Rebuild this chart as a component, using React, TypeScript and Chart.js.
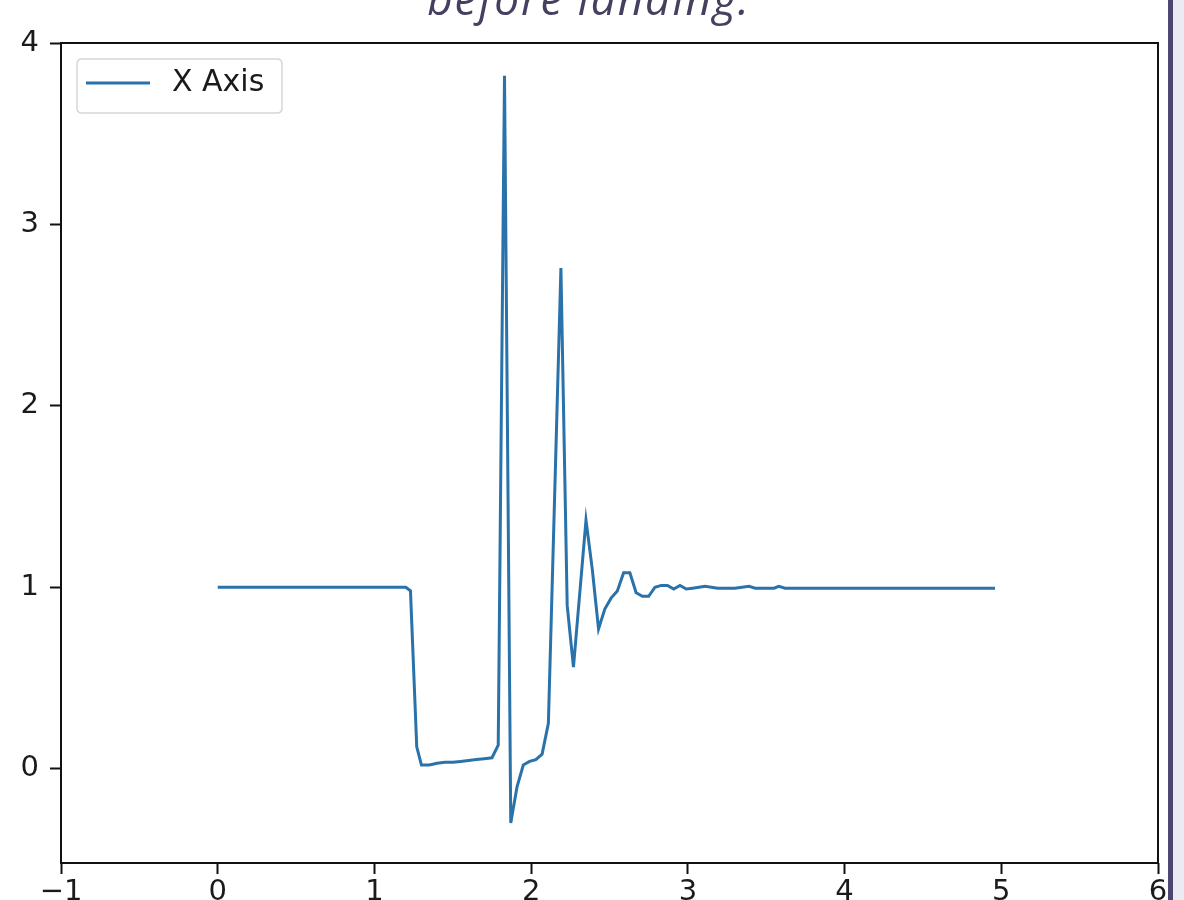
import React, { useEffect, useRef } from 'react';
import { Chart, registerables } from 'chart.js';

Chart.register(...registerables);

const titleText = 'before landing.';
const seriesLabel = 'X Axis';

const timeValues = [
  0, 1.2, 1.23, 1.27, 1.3, 1.35, 1.4, 1.45, 1.5, 1.55, 1.6, 1.65, 1.7, 1.75, 1.79,
  1.83, 1.87, 1.91, 1.95, 1.99, 2.03, 2.07, 2.11, 2.19, 2.23, 2.27, 2.35, 2.39, 2.43,
  2.47, 2.51, 2.55, 2.59, 2.63, 2.67, 2.71, 2.75, 2.79, 2.83, 2.87, 2.91, 2.95, 2.99,
  3.03, 3.07, 3.11, 3.15, 3.19, 3.3, 3.39, 3.43, 3.55, 3.58, 3.62, 4.96,
];
const axisValues = [
  1.0, 1.0, 0.98, 0.12, 0.02, 0.02, 0.03, 0.035, 0.035, 0.04, 0.045, 0.05, 0.055, 0.06, 0.13,
  3.82, -0.3, -0.1, 0.02, 0.04, 0.05, 0.08, 0.25, 2.76, 0.9, 0.56, 1.37, 1.1, 0.77,
  0.88, 0.94, 0.98, 1.08, 1.08, 0.97, 0.95, 0.95, 1.0, 1.01, 1.01, 0.99, 1.01, 0.99,
  0.995, 1.0, 1.005, 1.0, 0.995, 0.995, 1.005, 0.995, 0.995, 1.005, 0.995, 0.995,
];
const xTickValues = [-1, 0, 1, 2, 3, 4, 5, 6];
const yTickValues = [0, 1, 2, 3, 4];

const LINE_COLOR = '#2a72aa';
const TICK_FONT = '"DejaVu Sans", sans-serif';

const overlayPlugin = {
  id: 'overlay',
  afterDatasetsDraw(chart: any) {
    const { ctx, chartArea } = chart;
    ctx.save();
    ctx.strokeStyle = '#111';
    ctx.lineWidth = 2;
    ctx.strokeRect(chartArea.left, chartArea.top, chartArea.right - chartArea.left, chartArea.bottom - chartArea.top);

    const lx = 77, ly = 59, lw = 205, lh = 54, r = 5;
    ctx.beginPath();
    ctx.moveTo(lx + r, ly);
    ctx.lineTo(lx + lw - r, ly);
    ctx.quadraticCurveTo(lx + lw, ly, lx + lw, ly + r);
    ctx.lineTo(lx + lw, ly + lh - r);
    ctx.quadraticCurveTo(lx + lw, ly + lh, lx + lw - r, ly + lh);
    ctx.lineTo(lx + r, ly + lh);
    ctx.quadraticCurveTo(lx, ly + lh, lx, ly + lh - r);
    ctx.lineTo(lx, ly + r);
    ctx.quadraticCurveTo(lx, ly, lx + r, ly);
    ctx.closePath();
    ctx.fillStyle = 'rgba(255,255,255,0.85)';
    ctx.fill();
    ctx.strokeStyle = '#d6d6d6';
    ctx.lineWidth = 1.5;
    ctx.stroke();

    ctx.beginPath();
    ctx.moveTo(86, 83);
    ctx.lineTo(150, 83);
    ctx.strokeStyle = LINE_COLOR;
    ctx.lineWidth = 3;
    ctx.stroke();

    ctx.fillStyle = '#1a1a1a';
    ctx.font = '30px ' + TICK_FONT;
    ctx.textAlign = 'left';
    ctx.textBaseline = 'middle';
    ctx.fillText(seriesLabel, 172, 83);

    ctx.fillStyle = '#45405f';
    ctx.font = 'italic 44px "Open Sans", sans-serif';
    try {
      (ctx as any).letterSpacing = '2px';
    } catch (e) {}
    ctx.textAlign = 'center';
    ctx.textBaseline = 'alphabetic';
    ctx.fillText(titleText, 589, 15);
    ctx.restore();
  },
};

export default function App() {
  const canvasRef = useRef<HTMLCanvasElement | null>(null);

  useEffect(() => {
    document.body.style.margin = '0';
    const canvas = canvasRef.current;
    if (!canvas) return;
    const points = timeValues.map((t, i) => ({ x: t, y: axisValues[i] }));
    const chart = new Chart(canvas, {
      type: 'line',
      data: {
        datasets: [
          {
            label: seriesLabel,
            data: points,
            borderColor: LINE_COLOR,
            backgroundColor: LINE_COLOR,
            borderWidth: 3,
            pointRadius: 0,
            tension: 0,
            fill: false,
          },
        ],
      },
      options: {
        responsive: false,
        animation: false,
        events: [],
        layout: { padding: { top: 43, right: 26, bottom: 0, left: 0 } },
        plugins: {
          legend: { display: false },
          tooltip: { enabled: false },
          title: { display: false },
        },
        scales: {
          x: {
            type: 'linear',
            min: -1,
            max: 6,
            afterFit: (scale: any) => {
              scale.height = 37;
            },
            afterBuildTicks: (scale: any) => {
              scale.ticks = xTickValues.map((v) => ({ value: v }));
            },
            ticks: {
              color: '#1a1a1a',
              font: { size: 29, family: TICK_FONT },
              padding: 1,
              maxRotation: 0,
              autoSkip: false,
              callback: (v: any) => (Number(v) < 0 ? '\u2212' + Math.abs(Number(v)) : String(v)),
            },
            grid: {
              display: true,
              drawOnChartArea: false,
              drawTicks: true,
              tickLength: 11,
              tickColor: '#111',
              tickWidth: 2,
            },
            border: { display: false },
          },
          y: {
            type: 'linear',
            min: -0.52,
            max: 4.0,
            afterFit: (scale: any) => {
              scale.width = 61;
            },
            afterBuildTicks: (scale: any) => {
              scale.ticks = yTickValues.map((v) => ({ value: v }));
            },
            ticks: {
              color: '#1a1a1a',
              font: { size: 29, family: TICK_FONT },
              padding: 11,
              autoSkip: false,
            },
            grid: {
              display: true,
              drawOnChartArea: false,
              drawTicks: true,
              tickLength: 11,
              tickColor: '#111',
              tickWidth: 2,
            },
            border: { display: false },
          },
        },
      },
      plugins: [overlayPlugin],
    });
    return () => chart.destroy();
  }, []);

  return (
    <div style={{ position: 'relative', width: 1184, height: 900, background: '#fff', overflow: 'hidden' }}>
      <canvas ref={canvasRef} width={1184} height={900} style={{ display: 'block' }} />
      <div style={{ position: 'absolute', left: 1168, top: 0, width: 5, height: 900, background: '#4b4772' }} />
      <div style={{ position: 'absolute', left: 1173, top: 0, width: 11, height: 900, background: '#ebebf3' }} />
    </div>
  );
}
